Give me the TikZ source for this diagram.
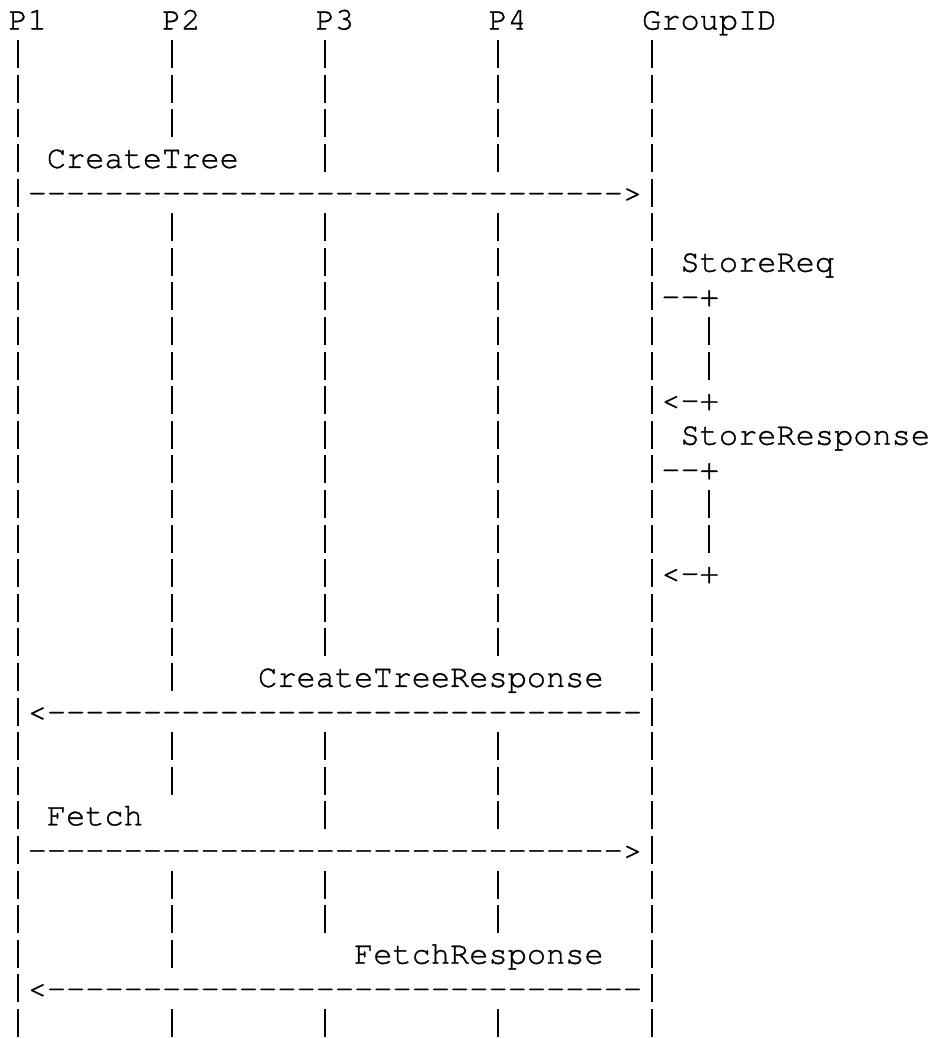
\documentclass[tikz,border=0pt]{standalone}
\usepackage{fontspec}
\setmonofont{TeX Gyre Cursor}[FakeBold=1]
\newdimen\chw \chw=19.2pt
\newcommand\gp[1]{\hspace*{#1\chw}}
\newcommand\pp{\makebox[\chw]{\rule[-4pt]{1.7pt}{28pt}}}
\newcommand\lifelines{\pp\gp{7}\pp\gp{7}\pp\gp{8}\pp\gp{7}\pp}
\newcommand\rdash{-------------------------------}
\begin{document}
\begin{tikzpicture}[x=1pt,y=1pt,
  ln/.style={anchor=base west, inner sep=0pt, outer sep=0pt,
             font=\ttfamily\fontsize{32}{34.6}\selectfont, text=black}]
\useasboundingbox[fill=white] (0,0) rectangle (933,-1039);
\newcommand\rw[2]{\node[ln] (r#1) at (8.5,{-(29.5+34.6*(#1-1))}) {#2};}
\rw{1}{P1\gp{6}P2\gp{6}P3\gp{7}P4\gp{6}GroupID}
\rw{2}{\lifelines}
\rw{3}{\lifelines}
\rw{4}{\lifelines}
\rw{5}{\pp\gp{1}CreateTree\gp{4}\pp\gp{8}\pp\gp{7}\pp}
\rw{6}{\pp\rdash>\pp}
\rw{7}{\lifelines}
\rw{8}{\lifelines\gp{1}StoreReq}
\rw{9}{\lifelines--+}
\rw{10}{\lifelines\gp{2}\pp}
\rw{11}{\lifelines\gp{2}\pp}
\rw{12}{\lifelines<-+}
\rw{13}{\lifelines\gp{1}StoreResponse}
\rw{14}{\lifelines--+}
\rw{15}{\lifelines\gp{2}\pp}
\rw{16}{\lifelines\gp{2}\pp}
\rw{17}{\lifelines<-+}
\rw{18}{\lifelines}
\rw{19}{\lifelines}
\rw{20}{\pp\gp{7}\pp\gp{4}CreateTreeResponse\gp{2}\pp}
\rw{21}{\pp<\rdash\pp}
\rw{22}{\lifelines}
\rw{23}{\lifelines}
\rw{24}{\pp\gp{1}Fetch\gp{9}\pp\gp{8}\pp\gp{7}\pp}
\rw{25}{\pp\rdash>\pp}
\rw{26}{\lifelines}
\rw{27}{\lifelines}
\rw{28}{\pp\gp{7}\pp\gp{9}FetchResponse\gp{2}\pp}
\rw{29}{\pp<\rdash\pp}
\rw{30}{\lifelines}
\end{tikzpicture}
\end{document}
